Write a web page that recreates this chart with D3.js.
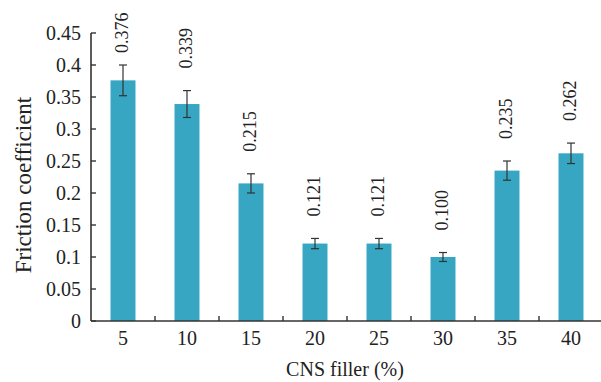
<!DOCTYPE html>
<html>
<head>
<meta charset="utf-8">
<script src="https://cdn.jsdelivr.net/npm/d3@7"></script>
<style>
  body { margin: 0; background: #fff; }
  text { font-family: "Liberation Serif", "Times New Roman", serif; fill: #222; }
</style>
</head>
<body>
<script>
;(() => {
    var width = 601, height = 382;

    // data
    var fillers = ['5', '10', '15', '20', '25', '30', '35', '40']; // CNS filler (%)
    var friction = [0.376, 0.339, 0.215, 0.121, 0.121, 0.100, 0.235, 0.262];
    var errors = [0.024, 0.021, 0.015, 0.008, 0.008, 0.007, 0.015, 0.016];
    var labels = ['0.376', '0.339', '0.215', '0.121', '0.121', '0.100', '0.235', '0.262'];
    var yTicks = [0, 0.05, 0.1, 0.15, 0.2, 0.25, 0.3, 0.35, 0.4, 0.45];
    var yTickLabels = ['0', '0.05', '0.1', '0.15', '0.2', '0.25', '0.3', '0.35', '0.4', '0.45'];

    var left = 91, top = 33, bottom = 321, band = 64;
    var axisColor = '#333',
        barColor = '#36a6c2';

    var svg = d3.select('body')
        .append('svg')
        .attr('width', width)
        .attr('height', height);

    var x = d3.scaleBand()
        .domain(fillers)
        .range([left, left + band * fillers.length])
        .paddingInner(0.61)
        .paddingOuter(0.305);
    var y = d3.scaleLinear().domain([0, 0.45]).range([bottom, top]);

    var data = fillers.map((f, i) => ({ f: f, v: friction[i], e: errors[i], label: labels[i] }));

    // bars
    svg.selectAll('rect.bar')
        .data(data)
        .enter()
        .append('rect')
        .classed('bar', true)
        .attr('x', d => x(d.f))
        .attr('y', d => y(d.v))
        .attr('width', x.bandwidth())
        .attr('height', d => bottom - y(d.v))
        .attr('fill', barColor);

    // error bars
    var cap = 4;
    var err = svg.selectAll('g.err')
        .data(data)
        .enter()
        .append('g')
        .attr('stroke', axisColor)
        .attr('stroke-width', 1.2);
    err.append('line')
        .attr('x1', d => x(d.f) + x.bandwidth() / 2)
        .attr('x2', d => x(d.f) + x.bandwidth() / 2)
        .attr('y1', d => y(d.v + d.e))
        .attr('y2', d => y(d.v - d.e));
    err.append('line')
        .attr('x1', d => x(d.f) + x.bandwidth() / 2 - cap)
        .attr('x2', d => x(d.f) + x.bandwidth() / 2 + cap)
        .attr('y1', d => y(d.v + d.e))
        .attr('y2', d => y(d.v + d.e));
    err.append('line')
        .attr('x1', d => x(d.f) + x.bandwidth() / 2 - cap)
        .attr('x2', d => x(d.f) + x.bandwidth() / 2 + cap)
        .attr('y1', d => y(d.v - d.e))
        .attr('y2', d => y(d.v - d.e));

    // value labels, rotated; kept clear of the top edge
    svg.selectAll('text.val')
        .data(data)
        .enter()
        .append('text')
        .classed('val', true)
        .attr('transform', d => {
            var cx = x(d.f) + x.bandwidth() / 2 + 5,
                cy = Math.max(y(d.v + d.e) - 22, 53);
            return 'translate(' + cx + ',' + cy + ') rotate(-90)';
        })
        .attr('font-size', 18)
        .text(d => d.label);

    // y axis
    var yAxis = svg.append('g');
    yAxis.append('line')
        .attr('x1', left).attr('x2', left)
        .attr('y1', y(0.45)).attr('y2', bottom)
        .attr('stroke', axisColor).attr('stroke-width', 1.6);
    yAxis.selectAll('line.tick')
        .data(yTicks)
        .enter()
        .append('line')
        .attr('x1', left).attr('x2', left + 5)
        .attr('y1', d => y(d)).attr('y2', d => y(d))
        .attr('stroke', axisColor).attr('stroke-width', 1.4);
    yAxis.selectAll('text')
        .data(yTicks)
        .enter()
        .append('text')
        .attr('x', left - 10)
        .attr('y', d => y(d))
        .attr('dy', '0.35em')
        .attr('text-anchor', 'end')
        .attr('font-size', 20)
        .text((d, i) => yTickLabels[i]);

    // x axis
    var xAxis = svg.append('g');
    xAxis.append('line')
        .attr('x1', left).attr('x2', width)
        .attr('y1', bottom).attr('y2', bottom)
        .attr('stroke', axisColor).attr('stroke-width', 1.6);
    xAxis.selectAll('line.tick')
        .data(fillers.slice(1))
        .enter()
        .append('line')
        .attr('x1', d => x(d) - x.step() * x.paddingInner() / 2)
        .attr('x2', d => x(d) - x.step() * x.paddingInner() / 2)
        .attr('y1', bottom).attr('y2', bottom - 5)
        .attr('stroke', axisColor).attr('stroke-width', 1.4);
    xAxis.selectAll('text')
        .data(fillers)
        .enter()
        .append('text')
        .attr('x', d => x(d) + x.bandwidth() / 2)
        .attr('y', 345)
        .attr('text-anchor', 'middle')
        .attr('font-size', 20)
        .text(d => d);

    // axis titles
    svg.append('text')
        .attr('x', 345)
        .attr('y', 376)
        .attr('text-anchor', 'middle')
        .attr('font-size', 20)
        .text('CNS filler (%)');
    svg.append('text')
        .attr('transform', 'translate(31,185) rotate(-90)')
        .attr('text-anchor', 'middle')
        .attr('font-size', 23)
        .text('Friction coefficient');
})();
</script>
</body>
</html>
